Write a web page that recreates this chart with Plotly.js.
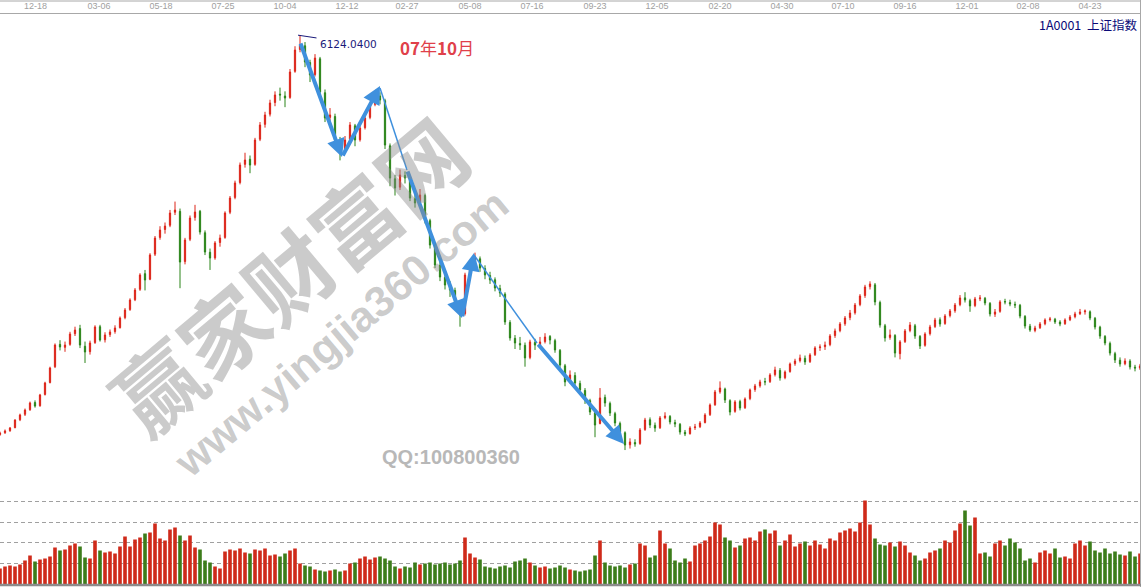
<!DOCTYPE html>
<html>
<head>
<meta charset="utf-8">
<script src="https://cdn.plot.ly/plotly-3.0.1.min.js"></script>
<style>
  html, body { margin: 0; padding: 0; background: #ffffff; }
  #chart { width: 1141px; height: 587px; }
</style>
</head>
<body>
<div id="chart"></div>
<script>
// ---- data (one candle ≈ 3 trading days) ----
const tickLabels = ['12-18','03-06','05-18','07-25','10-04','12-12','02-27','05-08','07-16','09-23','12-05','02-20','04-30','07-10','09-16','12-01','02-08','04-23'];
const tickPos = [7.1,19.8,32.2,44.6,57,69.4,81.4,94,106.4,119,131.4,144,156.4,168.6,181,193.4,205.6,218];

const openP = [
1830,1850,1872,1905,1990,2048,2098,2175,2140,2262,
2390,2560,2800,2768,2800,2915,2970,2780,2722,2820,
2990,2850,2905,2938,2980,3088,3175,3280,3392,3560,
3500,3770,3950,4035,4080,4220,4230,3690,3930,4165,
4230,4000,3790,3730,3895,3950,4220,4380,4540,4735,
4790,4735,5005,5165,5275,5400,5490,5470,5455,5735,
5970,6010,5830,5700,5870,5505,5240,5250,4990,4895,
5005,5150,5000,5130,5240,5380,5470,5420,4935,4580,
4490,4615,4580,4365,4325,4400,4130,3860,3650,3520,
3440,3380,3250,3130,3555,3690,3720,3615,3540,3495,
3400,3340,3035,2865,2810,2790,2660,2820,2790,2830,
2885,2840,2735,2570,2400,2465,2380,2305,2195,2065,
1950,2230,2165,2055,1950,1850,1720,1745,1735,1885,
1990,1930,1905,2012,2025,1960,1940,1855,1840,1905,
1915,1960,2045,2150,2290,2320,2195,2080,2185,2120,
2218,2315,2355,2400,2400,2475,2520,2442,2508,2592,
2625,2650,2615,2690,2765,2775,2798,2895,2948,3022,
3088,3140,3228,3325,3420,3440,3250,3000,2875,2895,
2700,2830,2950,3000,2885,2790,2915,2992,3065,3025,
3110,3162,3228,3300,3270,3218,3290,3295,3240,3125,
3155,3260,3250,3230,3220,3100,2995,2950,2980,3022,
3065,3070,3040,3022,3065,3098,3130,3150,3150,3080,
2985,2885,2810,2700,2630,2592,2620,2555,2545];

const highP = [
1862,1885,1912,1995,2055,2110,2185,2198,2268,2398,
2560,2810,2845,2830,2935,2990,3010,2830,2840,3005,
3010,2930,2960,3005,3100,3190,3295,3405,3565,3600,
3780,3965,4070,4110,4245,4335,4260,3945,4185,4300,
4245,4025,3830,3910,3980,4230,4395,4560,4755,4860,
4830,5020,5190,5300,5430,5520,5560,5520,5760,6005,
6124.04,6050,5860,5920,5890,5540,5340,5280,5030,5040,
5190,5170,5160,5265,5400,5522,5510,5440,4960,4620,
4680,4660,4600,4420,4470,4420,4150,3890,3690,3580,
3480,3410,3270,3570,3710,3786,3745,3650,3580,3520,
3440,3360,3060,2900,2880,2820,2850,2860,2880,2920,
2900,2860,2750,2590,2520,2500,2410,2330,2215,2085,
2330,2260,2185,2075,1970,1865,1790,1780,1900,2010,
2015,1960,2030,2070,2040,1990,1955,1880,1920,1945,
1975,2060,2165,2310,2402,2335,2210,2200,2205,2230,
2325,2375,2420,2440,2490,2560,2545,2520,2605,2645,
2690,2680,2705,2780,2800,2830,2910,2970,3040,3105,
3170,3245,3340,3440,3478,3460,3270,3020,2960,2910,
2845,2965,3040,3020,2900,2930,3010,3085,3090,3125,
3180,3245,3330,3361,3290,3310,3330,3310,3255,3180,
3275,3290,3280,3260,3235,3115,3020,3000,3040,3080,
3095,3085,3060,3080,3115,3150,3181,3175,3165,3095,
3000,2900,2830,2720,2660,2650,2640,2580,2590];

const lowP = [
1818,1838,1860,1898,1975,2030,2085,2120,2130,2250,
2380,2545,2735,2720,2785,2890,2760,2600,2690,2805,
2830,2820,2880,2915,2970,3070,3160,3265,3375,3380,
3490,3750,3925,3990,4060,4190,3404,3660,3910,4130,
3980,3760,3600,3710,3850,3935,4200,4360,4520,4700,
4640,4720,4985,5130,5250,5360,5420,5350,5440,5720,
5940,5780,5620,5680,5480,5190,5150,4960,4778,4860,
4990,4930,4980,5110,5220,5360,5380,4900,4500,4400,
4460,4530,4340,4270,4300,4100,3830,3620,3480,3390,
3310,3200,2990,3110,3530,3650,3580,3500,3450,3370,
3310,3010,2840,2750,2740,2560,2640,2740,2770,2810,
2800,2710,2540,2350,2380,2340,2270,2160,2040,1802,
1940,2130,2030,1920,1820,1664,1680,1700,1720,1870,
1900,1860,1890,1995,1940,1910,1830,1814,1830,1880,
1900,1950,2030,2140,2270,2170,2037,2065,2090,2105,
2200,2290,2335,2360,2385,2455,2410,2425,2495,2570,
2605,2580,2600,2675,2730,2740,2780,2870,2930,3000,
3060,3120,3210,3300,3390,3220,2980,2830,2850,2660,
2639,2815,2930,2860,2750,2775,2895,2975,2990,3010,
3090,3140,3210,3250,3150,3200,3265,3220,3100,3095,
3140,3230,3210,3190,3080,2970,2935,2930,2965,3005,
3045,3020,2995,3010,3050,3080,3115,3120,3060,2960,
2860,2790,2680,2600,2560,2575,2530,2510,2525];

const closeP = [
1847,1869,1901,1987,2041,2094,2170,2137,2256,2385,
2546,2793,2772,2793,2911,2954,2793,2718,2815,2987,
2847,2901,2933,2976,3083,3169,3277,3384,3546,3492,
3761,3943,4029,4072,4212,4244,3685,3922,4158,4223,
4008,3793,3728,3890,3943,4212,4373,4535,4728,4782,
4728,4997,5158,5266,5395,5481,5481,5448,5728,5964,
6018,5835,5696,5878,5513,5233,5266,4997,4889,4997,
5158,4997,5126,5233,5373,5481,5427,4943,4588,4481,
4621,4588,4373,4320,4406,4137,3868,3653,3524,3438,
3384,3256,3116,3546,3685,3728,3621,3546,3492,3406,
3352,3041,2869,2815,2793,2654,2826,2793,2826,2879,
2847,2740,2578,2396,2471,2385,2310,2202,2073,1933,
2224,2170,2062,1955,1858,1718,1751,1729,1880,1987,
1933,1901,2009,2030,1966,1944,1858,1837,1901,1912,
1955,2041,2148,2288,2331,2202,2073,2181,2116,2213,
2310,2353,2396,2396,2471,2525,2439,2503,2589,2621,
2654,2611,2686,2761,2772,2793,2890,2944,3019,3083,
3137,3223,3320,3417,3449,3256,3008,2869,2901,2707,
2826,2944,3008,2890,2783,2911,2987,3062,3019,3105,
3159,3223,3299,3277,3213,3288,3299,3245,3127,3148,
3256,3256,3234,3223,3105,2998,2954,2976,3019,3062,
3073,3041,3019,3062,3094,3127,3148,3159,3083,2987,
2890,2815,2707,2632,2589,2621,2557,2546,2568];

const volume = [
385,430,455,430,480,575,695,550,600,625,
670,890,815,840,935,985,910,650,625,1055,
815,770,790,745,910,1150,910,1080,1130,1225,
1250,1465,1105,1055,1320,1370,1175,1055,1175,890,
840,575,530,430,385,790,840,815,865,770,
745,840,815,865,695,720,670,745,815,865,
505,455,430,360,335,310,335,360,310,335,
505,530,625,670,600,650,670,625,575,430,
385,430,410,530,480,505,530,480,505,530,
480,505,575,1130,745,650,600,430,410,385,
430,455,410,550,575,625,530,455,410,430,
385,410,455,410,360,335,310,335,360,695,
1055,530,455,430,455,410,480,505,985,935,
650,695,1295,985,865,575,530,625,550,935,
985,1055,1150,1490,1440,1130,1055,890,935,1105,
1130,1055,1270,1320,1225,1295,935,1055,1200,910,
985,1030,935,1055,960,865,1105,1055,1250,1295,
1345,1270,1490,2015,1440,1105,960,935,1010,910,
1030,935,770,695,575,625,770,815,865,1055,
1010,1295,1465,1775,1415,1610,745,770,670,985,
1055,935,1105,1010,865,575,625,530,770,815,
745,865,650,670,625,985,1055,935,1030,815,
770,865,745,790,720,695,790,670,745];

// ---- chart ----
const idx = closeP.map((_, i) => i);
const UP = '#dc2418', DOWN = '#2a8418';
const VUP = '#cf2a1a', VDOWN = '#3c7c1a';
const volColors = closeP.map((c, i) => c >= openP[i] ? VUP : VDOWN);
const peakVal = Math.max(...highP);
const peakIdx = highP.indexOf(peakVal);

const H = 573; // plot-area height in px (587 - top margin 14)
const blue = '#3f90dd';

const candles = {
  type: 'candlestick', x: idx, open: openP, high: highP, low: lowP, close: closeP,
  xaxis: 'x', yaxis: 'y', whiskerwidth: 0, hoverinfo: 'skip',
  increasing: { line: { color: UP, width: 1 }, fillcolor: UP },
  decreasing: { line: { color: DOWN, width: 1 }, fillcolor: DOWN }
};
const vols = {
  type: 'bar', x: idx, y: volume, xaxis: 'x', yaxis: 'y2', width: 0.72,
  marker: { color: volColors, line: { width: 0 } }, hoverinfo: 'skip'
};

// thick arrows: [tailX, tailY, headX, headY]
const thick = [[60,6050,68.4,4814],[68.4,4814,76,5578],[81.4,4675,92.4,3084],[92.4,3084,94.8,3782],[107.4,2815,124.8,1729]];
const thin = [[76,5556,81.4,4675],[94.8,3761,107.4,2815]];

const annotations = thick.map(a => ({
  xref: 'x', yref: 'y', axref: 'x', ayref: 'y',
  x: a[2], y: a[3], ax: a[0], ay: a[1], text: '', showarrow: true,
  arrowhead: 2, arrowsize: 0.9, arrowwidth: 4, arrowcolor: blue, standoff: 0, startstandoff: 0
}));
annotations.push(
  { xref: 'x', yref: 'y', x: peakIdx + 3.5, y: peakVal - 95, xanchor: 'left', yanchor: 'middle',
    text: peakVal.toFixed(4), showarrow: false, font: { family: 'DejaVu Sans', size: 10.5, color: '#1a1a7a' } },
  { xref: 'paper', yref: 'paper', x: 437/1141, y: (587-48)/H, xanchor: 'center', yanchor: 'middle',
    text: '<b>07</b>年<b>10</b>月', showarrow: false, font: { family: 'Noto Sans CJK SC', size: 17, color: '#e0404a' } },
  { xref: 'paper', yref: 'paper', x: 1139/1141, y: (587-24)/H, xanchor: 'right', yanchor: 'middle',
    text: '1A0001  上证指数', showarrow: false, font: { family: 'Noto Sans CJK SC', size: 12.5, color: '#0a0a78' } },
  { xref: 'paper', yref: 'paper', x: 451/1141, y: (587-457)/H, xanchor: 'center', yanchor: 'middle',
    text: '<b>QQ:100800360</b>', showarrow: false, font: { family: 'Liberation Sans', size: 20, color: '#b8b8b8' } },
  { xref: 'paper', yref: 'paper', x: 287/1141, y: (587-273)/H, xanchor: 'center', yanchor: 'middle', textangle: -40,
    text: '<b>赢家财富网</b>', showarrow: false, font: { family: 'Noto Sans CJK SC', size: 86, color: 'rgba(140,140,140,0.45)' } },
  { xref: 'paper', yref: 'paper', x: 341/1141, y: (587-333)/H, xanchor: 'center', yanchor: 'middle', textangle: -40,
    text: '<b>www.yingjia360.com</b>', showarrow: false, font: { family: 'Liberation Sans', size: 43, color: 'rgba(140,140,140,0.45)' } }
);

const shapes = thin.map(s => ({
  type: 'line', xref: 'x', yref: 'y', x0: s[0], y0: s[1], x1: s[2], y1: s[3],
  line: { color: blue, width: 1.5 }
}));
shapes.push(
  { type: 'line', xref: 'x', yref: 'y', x0: peakIdx - 0.4, y0: peakVal, x1: peakIdx + 3.3, y1: peakVal - 30, line: { color: '#1a1a7a', width: 1 } },
  { type: 'line', xref: 'paper', yref: 'paper', x0: 0, x1: 1, y0: 1 + 13/H, y1: 1 + 13/H, line: { color: '#a8a8a8', width: 1 } },
  { type: 'line', xref: 'paper', yref: 'paper', x0: 1140.5/1141, x1: 1140.5/1141, y0: 0, y1: 1 + 14/H, line: { color: '#a8a8a8', width: 1 } },
  { type: 'line', xref: 'paper', yref: 'paper', x0: 0, x1: 1, y0: 2/H, y1: 2/H, line: { color: '#8c8c8c', width: 2.5 } }
);

const layout = {
  width: 1141, height: 587,
  margin: { l: 0, r: 0, t: 14, b: 0, pad: 0 },
  paper_bgcolor: '#ffffff', plot_bgcolor: '#ffffff',
  showlegend: false, hovermode: false, boxgap: 0.65,
  xaxis: {
    range: [0, 228.2], side: 'top', anchor: 'y', tickmode: 'array', tickvals: tickPos, ticktext: tickLabels,
    ticks: '', showline: true, linecolor: '#a8a8a8', linewidth: 1, showgrid: false, zeroline: false,
    tickfont: { family: 'Liberation Sans', size: 9, color: '#a0a0a0' }, rangeslider: { visible: false }, fixedrange: true
  },
  yaxis: {
    domain: [92/H, 1], range: [1180.75, 6351.5], showticklabels: false, showgrid: false, zeroline: false, ticks: '', fixedrange: true
  },
  yaxis2: {
    domain: [2.5/H, 89.5/H], range: [0, 2088], tickmode: 'array', tickvals: [500, 1000, 1500, 2000],
    showticklabels: false, ticks: '', showgrid: true, gridcolor: '#a0a0a0', gridwidth: 1, griddash: '4px,3px',
    zeroline: false, fixedrange: true
  },
  annotations: annotations,
  shapes: shapes
};

Plotly.newPlot('chart', [vols, candles], layout, { displayModeBar: false, staticPlot: true });
</script>
</body>
</html>
